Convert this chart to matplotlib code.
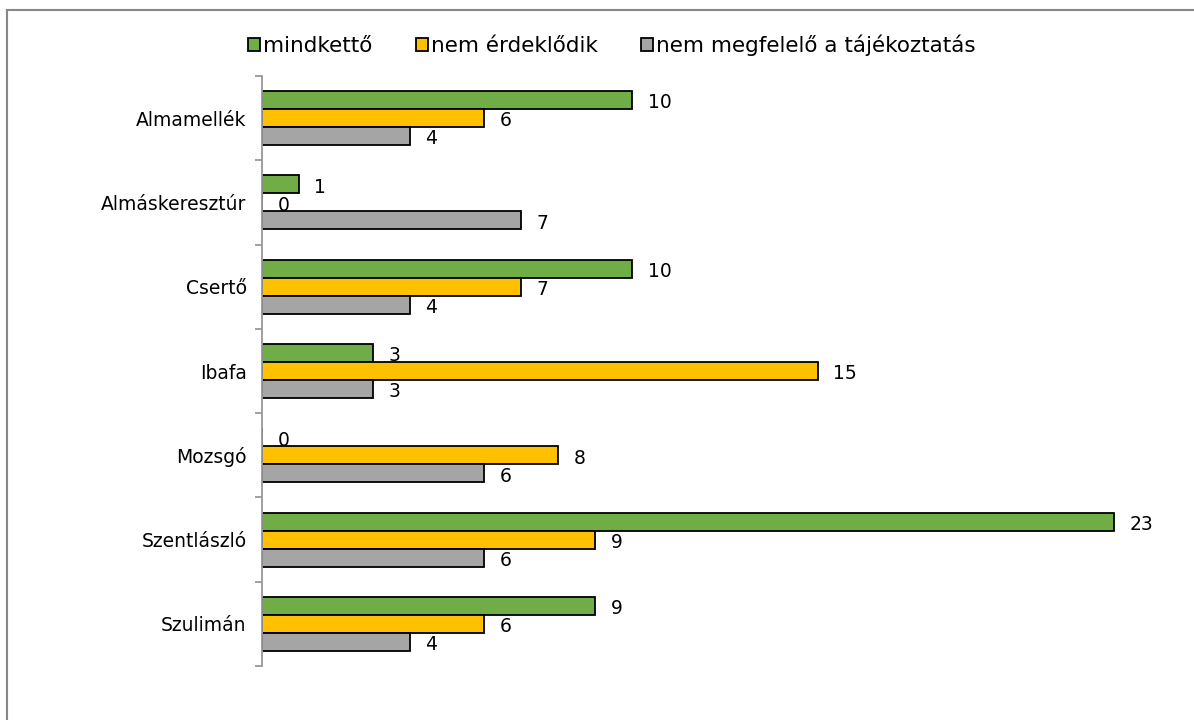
import matplotlib.pyplot as plt
from matplotlib.lines import Line2D
import numpy as np

categories = ['Almamellék', 'Almáskeresztúr', 'Csertő', 'Ibafa', 'Mozsgó', 'Szentlászló', 'Szulimán']
mindketto = [10, 1, 10, 3, 0, 23, 9]
nem_erdeklodik = [6, 0, 7, 15, 8, 9, 6]
nem_megfelelo = [4, 7, 4, 3, 6, 6, 4]
series_names = ['mindkettő', 'nem érdeklődik', 'nem megfelelő a tájékoztatás']
colors = ['#70AD47', '#FFC000', '#A5A5A5']

plt.rcParams['font.family'] = ['DejaVu Sans']

fig = plt.figure(figsize=(11.94, 7.2), dpi=100)
ax = fig.add_axes([262 / 1194, 1 - 666 / 720, 0.76, 590 / 720])

y = np.arange(len(categories))
h = 0.213
for k, vals in enumerate([mindketto, nem_erdeklodik, nem_megfelelo]):
    pos = y + (k - 1) * h
    ax.barh(pos, vals, height=h, color=colors[k], edgecolor='black', linewidth=1.3, label=series_names[k])
    for p, v in zip(pos, vals):
        ax.annotate(str(v), (v, p), xytext=(11, -2), textcoords='offset points',
                    va='center', ha='left', fontsize=13.5)

ax.set_xlim(0, 24.5)
ax.set_ylim(len(categories) - 0.5, -0.5)
ax.set_yticks(y)
ax.set_yticklabels(categories, fontsize=13.5)
ax.set_yticks(np.arange(len(categories) + 1) - 0.5, minor=True)
ax.tick_params(axis='y', which='major', length=0, pad=11)
ax.tick_params(axis='y', which='minor', length=5, width=1.3, color='#999999')
ax.set_xticks([])
for s in ['top', 'right', 'bottom']:
    ax.spines[s].set_visible(False)
ax.spines['left'].set_color('#999999')
ax.spines['left'].set_linewidth(1.3)

handles = [plt.Rectangle((0, 0), 1, 1, facecolor=c, edgecolor='black', linewidth=1.3) for c in colors]
fig.legend(handles, series_names, loc='center', bbox_to_anchor=(612 / 1194, 1 - 45 / 720),
           ncol=3, frameon=False, fontsize=15.5, handlelength=0.55, handleheight=0.55,
           handletextpad=0.15, columnspacing=2.0)

# outer chart border (only top and left visible)
fig.add_artist(Line2D([7 / 1194, 7 / 1194], [0, 1 - 10 / 720], transform=fig.transFigure,
                      color='#888888', linewidth=1.5))
fig.add_artist(Line2D([7 / 1194, 1], [1 - 10 / 720, 1 - 10 / 720], transform=fig.transFigure,
                      color='#888888', linewidth=1.5))

fig.savefig('out.png', dpi=100)
